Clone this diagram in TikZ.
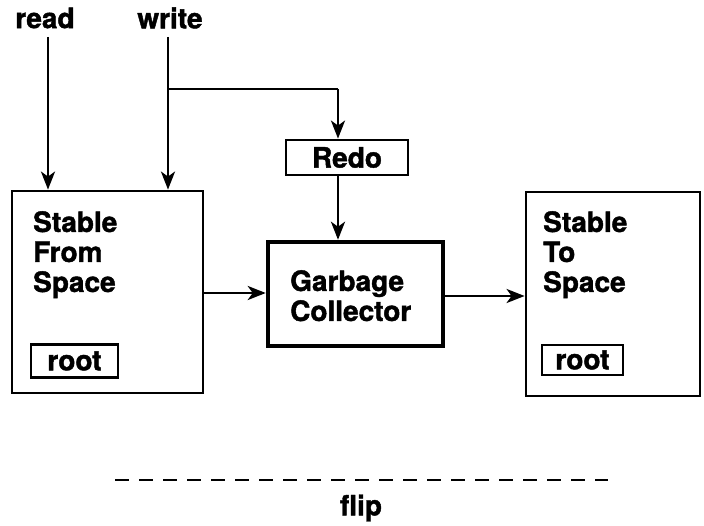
\documentclass[tikz,border=0pt]{standalone}
\usepackage{fontspec}
\setmainfont{TeX Gyre Heros}[BoldFeatures={FakeBold=1.5}]
\usetikzlibrary{arrows.meta}
\begin{document}
\begin{tikzpicture}[x=1pt,y=1pt,
  lbl/.style={font=\fontsize{28}{30}\selectfont\bfseries, inner sep=0pt},
  box/.style={draw, line width=2.8pt, inner sep=0pt},
  conn/.style={line width=2.8pt, -{Stealth[length=18pt,width=14pt,inset=5pt]}},
  line/.style={line width=2.8pt}]
\useasboundingbox (0,0) rectangle (704,525);
% labels
\node[lbl] (read) at (45,507) {read};
\node[lbl] (write) at (170,507) {write};
% boxes
\node[box, minimum width=191pt, minimum height=202pt] (lbox) at (107.5,233) {};
\node[box, minimum width=174pt, minimum height=204pt] (rbox) at (613,231) {};
\node[box, minimum width=87pt, minimum height=33pt] (lroot) at (74.5,164) {};
\node[lbl] at (lroot) {root};
\node[box, minimum width=81pt, minimum height=30pt] (rroot) at (582.5,165) {};
\node[lbl] at (rroot) {root};
\node[box, minimum width=122pt, minimum height=35pt] (redo) at (347,367.5) {};
\node[lbl] at (redo) {Redo};
\node[box, line width=4.5pt, minimum width=175pt, minimum height=104pt] (gc) at (355.5,231) {};
\node[lbl, align=left, anchor=north west] (gct) at (290,255) {Garbage\\Collector};
\node[lbl, align=left, anchor=north west] (lt) at (33,314) {Stable\\From\\Space};
\node[lbl, align=left, anchor=north west] (rt) at (543,314) {Stable\\To\\Space};
\node[lbl] (flip) at (361,17) {flip};
% connectors
\coordinate (br) at (168,436);
\coordinate (bend) at (338,436);
\coordinate (rs) at (48,488);
\coordinate (ws) at (168,488);
\draw[conn] (rs) -- (rs |- lbox.north);
\draw[conn] (ws) -- (ws |- lbox.north);
\draw[line] (br) -- (bend);
\draw[conn] (bend) -- (bend |- redo.north);
\draw[conn] (bend |- redo.south) -- (bend |- gc.north);
\draw[conn] (lbox.east |- 0,232) -- (gc.west |- 0,232);
\draw[conn] (gc.east |- 0,229) -- (rbox.west |- 0,229);
% flip dashed line
\coordinate (fa) at (115,45);
\coordinate (fb) at (608,45);
\draw[line width=1.5pt, dash pattern=on 14pt off 10pt] (fa) -- (fb);
\end{tikzpicture}
\end{document}
